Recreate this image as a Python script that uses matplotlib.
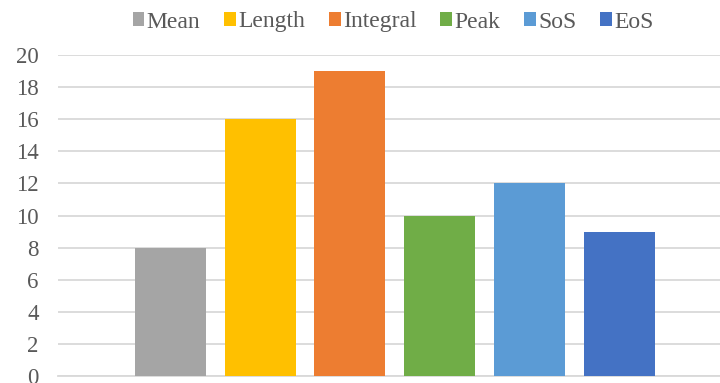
import matplotlib
matplotlib.use("Agg")
import matplotlib.pyplot as plt
from matplotlib.patches import Patch

series = ["Mean", "Length", "Integral", "Peak", "SoS", "EoS"]
values = [8, 16, 19, 10, 12, 9]
colors = ["#A5A5A5", "#FFC000", "#ED7D31", "#70AD47", "#5B9BD5", "#4472C4"]
yticks = [0, 2, 4, 6, 8, 10, 12, 14, 16, 18, 20]

plt.rcParams["font.family"] = ["Liberation Serif", "DejaVu Serif"]

W, H = 720, 383
fig = plt.figure(figsize=(W / 100, H / 100), dpi=100)
left, right, bottom, top = 58, 720, 376, 55
ax = fig.add_axes([left / W, 1 - bottom / H, (right - left) / W, (bottom - top) / H])

pitch = 89.7
xs = list(range(len(series)))
ax.bar(xs, values, width=71 / pitch, color=colors, zorder=3)

ax.set_xlim(-(170.5 - left) / pitch, (right - 170.5) / pitch)
ax.set_ylim(0, 20)
ax.set_yticks(yticks)
ax.set_yticklabels([str(t) for t in yticks], fontsize=16.5, color="#595959")
ax.tick_params(axis="y", length=0, pad=14)
ax.set_xticks([])
ax.grid(axis="y", color="#D9D9D9", linewidth=1.3, zorder=0)
for s in ["top", "right", "left"]:
    ax.spines[s].set_visible(False)
ax.spines["bottom"].set_color("#D9D9D9")
ax.spines["bottom"].set_linewidth(1.3)

handles = [Patch(facecolor=c, label=s) for s, c in zip(series, colors)]
fig.legend(handles=handles, loc="center", bbox_to_anchor=(393 / W, 1 - 22 / H),
           ncol=len(series), frameon=False, fontsize=17, handlelength=0.5,
           handleheight=0.5, handletextpad=0.1, columnspacing=1.0,
           labelcolor="#595959")

fig.savefig("out.png", dpi=100)
